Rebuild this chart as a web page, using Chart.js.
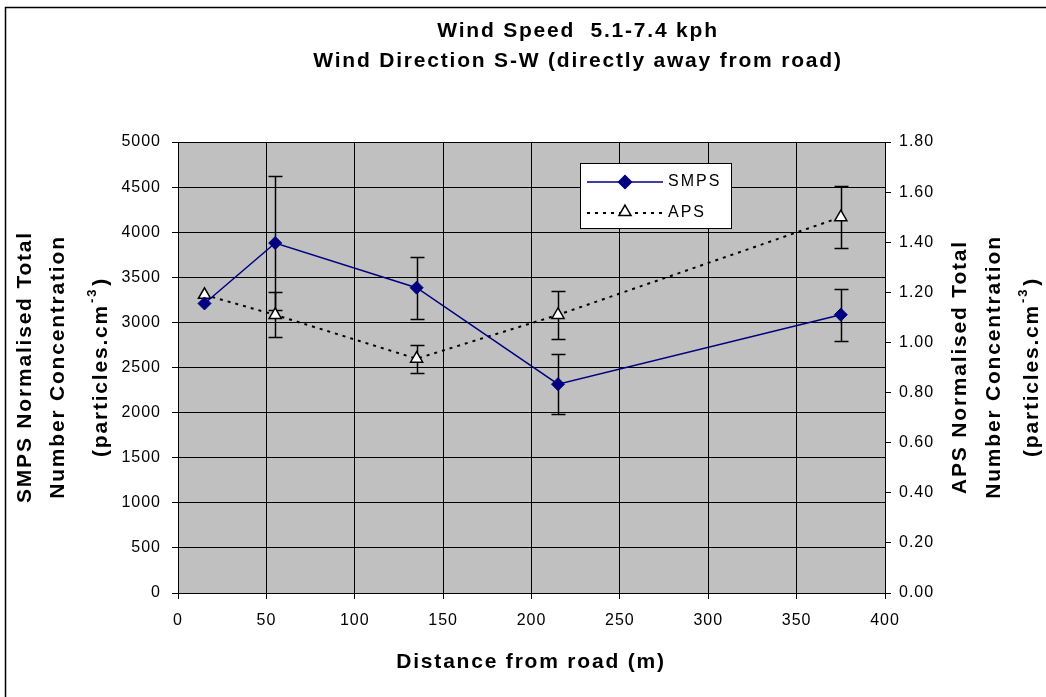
<!DOCTYPE html>
<html>
<head>
<meta charset="utf-8">
<script src="https://cdn.jsdelivr.net/npm/chart.js@4.4.1/dist/chart.umd.min.js"></script>
<style>
  html, body { margin: 0; padding: 0; background: #fff; }
  #wrap { width: 1046px; height: 697px; }
</style>
</head>
<body>
<div id="wrap"><canvas id="chart" width="1046" height="697"></canvas></div>
<script>
// values
const distances = [15, 55, 135, 215, 375];
const smpsValues = [3210, 3880, 3385, 2315, 3085];
const smpsErrors = [0, 740, 345, 332, 287];
const apsValues = [1.19, 1.11, 0.935, 1.11, 1.50];
const apsErrors = [0, 0.09, 0.055, 0.095, 0.123];

const titleLines = ['Wind Speed  5.1-7.4 kph', 'Wind Direction S-W (directly away from road)'];
const xTitle = 'Distance from road (m)';
const leftTitle = ['SMPS Normalised Total', 'Number Concentration'];
const rightTitle = ['APS Normalised Total', 'Number Concentration'];
const unitText = ['(particles.cm', '-3', ')'];

const FONT = "'Liberation Sans', Arial, Helvetica, sans-serif";
const NAVY = '#000080';

function setSpacing(ctx, px) {
  if ('letterSpacing' in ctx) ctx.letterSpacing = px + 'px';
}

function drawErrorBars(ctx, xScale, yScale, values, errors) {
  distances.forEach((d, i) => {
    if (!errors[i]) return;
    const x = Math.round(xScale.getPixelForValue(d)) + 0.5;
    const top = Math.round(yScale.getPixelForValue(values[i] + errors[i])) + 0.5;
    const bot = Math.round(yScale.getPixelForValue(values[i] - errors[i])) + 0.5;
    ctx.beginPath();
    ctx.moveTo(x, top); ctx.lineTo(x, bot);
    ctx.moveTo(x - 7, top); ctx.lineTo(x + 7, top);
    ctx.moveTo(x - 7, bot); ctx.lineTo(x + 7, bot);
    ctx.stroke();
  });
}

// rotated (bottom-to-top) axis title, three lines, last one with a superscript
function drawSideTitle(ctx, xs, cy, lines) {
  ctx.font = 'bold 21px ' + FONT;
  ctx.textBaseline = 'middle';
  lines.forEach((t, i) => {
    ctx.save();
    ctx.translate(xs[i], cy);
    ctx.rotate(-Math.PI / 2);
    ctx.textAlign = 'center';
    ctx.fillText(t, 0, 0);
    ctx.restore();
  });
  ctx.save();
  ctx.translate(xs[2], cy);
  ctx.rotate(-Math.PI / 2);
  ctx.textAlign = 'left';
  ctx.font = 'bold 21px ' + FONT;
  const w1 = ctx.measureText(unitText[0]).width;
  const w3 = ctx.measureText(unitText[2]).width;
  ctx.font = 'bold 13px ' + FONT;
  const w2 = ctx.measureText(unitText[1]).width + 3;
  let x = -(w1 + w2 + w3) / 2;
  ctx.font = 'bold 21px ' + FONT;
  ctx.fillText(unitText[0], x, 0);
  x += w1;
  ctx.font = 'bold 13px ' + FONT;
  ctx.fillText(unitText[1], x + 1, -9);
  x += w2;
  ctx.font = 'bold 21px ' + FONT;
  ctx.fillText(unitText[2], x, 0);
  ctx.restore();
}

const excelLook = {
  id: 'excelLook',
  beforeLayout(chart) { setSpacing(chart.ctx, 1); },
  beforeDraw(chart) {
    const { ctx, chartArea: a } = chart;
    setSpacing(ctx, 1);
    ctx.save();
    ctx.fillStyle = '#c0c0c0';
    ctx.fillRect(a.left, a.top, a.right - a.left, a.bottom - a.top);
    ctx.strokeStyle = '#000';
    ctx.lineWidth = 1.5;
    ctx.beginPath();
    ctx.moveTo(5.5, 697); ctx.lineTo(5.5, 7.5); ctx.lineTo(1046, 7.5);
    ctx.stroke();
    ctx.restore();
  },
  beforeDatasetsDraw(chart) {
    const ctx = chart.ctx;
    ctx.save();
    ctx.strokeStyle = '#000';
    ctx.lineWidth = 1.5;
    drawErrorBars(ctx, chart.scales.x, chart.scales.y, smpsValues, smpsErrors);
    drawErrorBars(ctx, chart.scales.x, chart.scales.y2, apsValues, apsErrors);
    ctx.restore();
  },
  afterDraw(chart) {
    const ctx = chart.ctx;
    ctx.save();
    setSpacing(ctx, 1.8);
    ctx.fillStyle = '#000';
    ctx.font = 'bold 21px ' + FONT;
    ctx.textAlign = 'center';
    ctx.textBaseline = 'alphabetic';
    ctx.fillText(titleLines[0], 578, 37);
    ctx.fillText(titleLines[1], 578, 67);
    ctx.textBaseline = 'middle';
    ctx.fillText(xTitle, 531, 662);
    drawSideTitle(ctx, [25, 58, 101], 367, leftTitle);
    drawSideTitle(ctx, [960, 994, 1032], 367, rightTitle);

    // legend box
    ctx.fillStyle = '#fff';
    ctx.fillRect(580, 163, 151, 65);
    ctx.strokeStyle = '#000';
    ctx.lineWidth = 1;
    ctx.strokeRect(580.5, 163.5, 151, 65);

    ctx.lineWidth = 1.5;
    ctx.strokeStyle = NAVY;
    ctx.beginPath(); ctx.moveTo(587, 182); ctx.lineTo(663, 182); ctx.stroke();
    ctx.fillStyle = NAVY;
    Chart.helpers.drawPoint(ctx, { pointStyle: 'rectRot', radius: 6.5, rotation: 0, borderWidth: 1 }, 625, 182);

    ctx.strokeStyle = '#000';
    ctx.lineWidth = 2;
    ctx.setLineDash([3, 5]);
    ctx.beginPath(); ctx.moveTo(587, 213); ctx.lineTo(663, 213); ctx.stroke();
    ctx.setLineDash([]);
    ctx.fillStyle = '#fff';
    ctx.lineWidth = 1.5;
    Chart.helpers.drawPoint(ctx, { pointStyle: 'triangle', radius: 7, rotation: 0, borderWidth: 1.5 }, 625, 212);

    setSpacing(ctx, 2);
    ctx.fillStyle = '#000';
    ctx.font = '16px ' + FONT;
    ctx.textAlign = 'left';
    ctx.fillText('SMPS', 668, 182);
    ctx.fillText('APS', 668, 213);
    ctx.restore();
  }
};

new Chart(document.getElementById('chart'), {
  type: 'line',
  data: {
    datasets: [
      {
        label: 'SMPS',
        data: distances.map((d, i) => ({ x: d, y: smpsValues[i] })),
        yAxisID: 'y',
        borderColor: NAVY,
        borderWidth: 1.5,
        pointStyle: 'rectRot',
        pointRadius: 6.5,
        pointBackgroundColor: NAVY,
        pointBorderColor: NAVY,
        pointBorderWidth: 1,
        tension: 0
      },
      {
        label: 'APS',
        data: distances.map((d, i) => ({ x: d, y: apsValues[i] })),
        yAxisID: 'y2',
        borderColor: '#000',
        borderWidth: 2,
        borderDash: [3, 5],
        pointStyle: 'triangle',
        pointRadius: 7,
        pointBackgroundColor: '#fff',
        pointBorderColor: '#000',
        pointBorderWidth: 1.5,
        tension: 0
      }
    ]
  },
  options: {
    responsive: false,
    animation: false,
    events: [],
    layout: { padding: { top: 142, left: 0, right: 0, bottom: 0 } },
    plugins: { legend: { display: false }, title: { display: false }, tooltip: { enabled: false } },
    scales: {
      x: {
        type: 'linear',
        min: 0, max: 400,
        ticks: { stepSize: 50, color: '#000', font: { family: FONT, size: 16 }, padding: 12, maxRotation: 0, callback: v => String(v) },
        grid: { color: '#000', lineWidth: 1, tickLength: 6 },
        border: { color: '#000', width: 1 },
        afterFit: s => { s.height = 104; }
      },
      y: {
        position: 'left',
        min: 0, max: 5000,
        ticks: { stepSize: 500, color: '#000', font: { family: FONT, size: 16 }, padding: 11, callback: v => String(v) },
        grid: { color: '#000', lineWidth: 1, tickLength: 6 },
        border: { color: '#000', width: 1 },
        afterFit: s => { s.width = 178; }
      },
      y2: {
        position: 'right',
        min: 0, max: 1.8,
        ticks: { stepSize: 0.2, color: '#000', font: { family: FONT, size: 16 }, padding: 8, callback: v => v.toFixed(2) },
        grid: { drawOnChartArea: false, color: '#000', lineWidth: 1, tickLength: 6 },
        border: { color: '#000', width: 1 },
        afterFit: s => { s.width = 161; }
      }
    }
  },
  plugins: [excelLook]
});
</script>
</body>
</html>
